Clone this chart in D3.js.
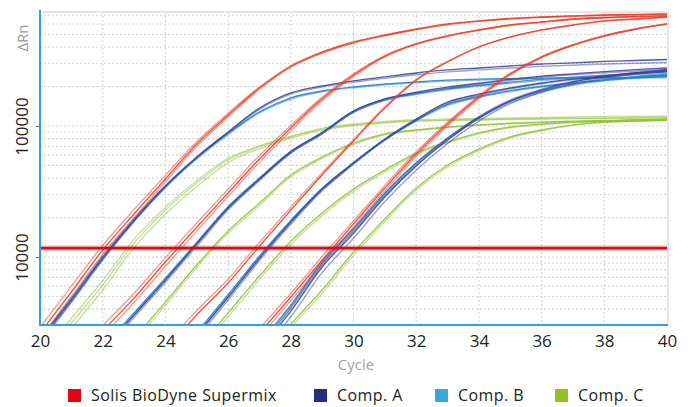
<!DOCTYPE html>
<html><head><meta charset="utf-8">
<script src="https://cdn.jsdelivr.net/npm/d3@7"></script>
<style>
html,body{margin:0;padding:0;background:#fff;}
svg{display:block;font-family:"Open Sans",sans-serif;}
</style></head><body>
<svg id="chart" width="691" height="407"></svg>
<script>
// ---------- data ----------
const xTicks = [20,22,24,26,28,30,32,34,36,38,40];
const yTicks = [10000,100000];
const threshold = 11700;
const legendLabels = ["Solis BioDyne Supermix","Comp. A","Comp. B","Comp. C"];

// Solis BioDyne Supermix (red)
const red_g1a = [2630,5410,11300,21300,39400,72900,121000,195000,287000,367000,438000,495000,550000,601000,634000,662000,679000,692000,703000,710000,716000];
const red_g1b = [2900,6000,12300,23000,42000,76000,125000,198000,285000,362000,432000,490000,545000,595000,630000,658000,676000,690000,700000,708000,714000];
const red_g1c = [2400,5000,10500,20000,37500,70000,117000,190000,280000,360000,430000,488000,543000,592000,628000,655000,673000,686000,697000,704000,710000];
const red_g2a = [2740,4860,9160,16900,30800,56000,96600,161000,245000,342000,423000,487000,541000,590000,622000,656000,673000,686000,692000];
const red_g2b = [3000,5300,9900,18200,33000,59500,101000,166000,250000,345000,425000,488000,540000,588000,620000,653000,670000,683000,690000];
const red_g2c = [2500,4500,8500,15800,29000,53000,92000,155000,238000,335000,418000,482000,536000,585000,618000,650000,668000,680000,688000];
const red_g3a = [1950,3610,6330,12100,22800,42300,76800,137000,224000,308000,401000,478000,541000,590000,634000,656000,679000];
const red_g3b = [2150,3900,6800,12900,24000,44000,79000,140000,226000,310000,400000,475000,537000,586000,630000,652000,675000];
const red_g4a = [2630,4950,9490,17900,33600,61100,103500,166000,249000,336000,415000,487000,550000,601000];
const red_g4b = [2850,5300,10100,18900,35200,63500,107000,170000,253000,340000,418000,490000,552000,603000];
const red_g4c = [2450,4650,8900,16900,32000,58500,99500,161000,244000,331000,410000,482000,545000,597000];

// Comp. A (dark blue)
const a_g1a = [2330,4700,9830,19100,34800,58000,90000,137000,179000,202000,221000,237000,254000,268000,277000,287000,297000,303000,311000,316000,322000];
const a_g1b = [2200,4500,9500,18600,34000,57000,88500,134000,175000,198000,216000,231000,246000,259000,268000,277000,285000,291000,297000,301000,305000];
const a_g2a = [1950,3610,6670,12600,23700,39400,63400,88500,130000,161000,181000,198000,212000,227000,240000,250000,260000,269000,277000];
const a_g2b = [1850,3450,6400,12100,22900,38300,61800,86500,127000,158000,178000,195000,209000,223000,236000,246000,255000,263000,270000];
const a_g3a = [2540,4950,9830,18500,33000,52200,79600,113000,152000,175000,195000,213000,228000,241000,254000,263000];
const a_g3b = [2400,4700,9400,17800,32000,51000,78000,111000,149000,172000,192000,210000,225000,238000,250000,260000];
const a_g4a = [1950,3870,8390,15200,28700,49500,78200,115000,155000,188000,217000,237000,254000,268000];
const a_g4b = [1750,3500,7600,13900,26500,46000,73500,109000,148000,181000,210000,231000,248000,262000];
const a_g4c = [2100,4150,8900,16000,30000,51500,80500,118000,158000,191000,219000,239000,256000,270000];

// Comp. B (light blue)
const b_g1a = [2400,4850,10100,19500,35000,57500,88000,128000,164000,185000,199000,209000,217000,224000,228000,230000,232000,233000,234000,235000,237000];
const b_g1b = [2250,4600,9600,18800,34000,56000,86000,126000,160000,182000,196000,206000,214000,220000,224000,227000,229000,230000,231000,232000,233000];
const b_g2a = [2050,3750,6900,12900,24200,40000,64000,89500,130000,160000,177000,192000,204000,216000,227000,236000,244000,251000,258000];
const b_g2b = [1950,3600,6650,12500,23500,39000,62500,87500,127000,156000,174000,189000,201000,212000,222000,231000,239000,246000,252000];
const b_g3a = [2650,5150,10200,19000,33500,52500,79000,111000,146000,168000,186000,201000,214000,225000,235000,243000];
const b_g3b = [2500,4900,9700,18300,32500,51500,78000,109000,143000,165000,183000,198000,211000,222000,231000,239000];
const b_g4a = [2200,4300,9200,16500,30800,52500,81000,117000,155000,185000,208000,225000,238000,248000];
const b_g4b = [2050,4050,8700,15700,29500,50500,79000,114000,151000,181000,204000,221000,234000,244000];

// Comp. C (green)
const c_g1a = [1550,3130,6110,12800,22800,36700,55000,69200,82400,94800,102000,107000,110000,111000,112000,113000,114000,115000,115000,116000,117000];
const c_g1b = [1400,2850,5600,11800,21200,34500,52500,67000,80500,93000,100500,105500,108500,110000,111000,112000,113000,113500,114000,114500,115000];
const c_g1c = [1700,3400,6600,13700,24000,38200,56500,70500,83500,96000,103500,108500,111500,113000,114000,115000,116000,117000,118000,118500,119000];
const c_g2a = [1300,2400,4530,8690,15800,25800,42300,58000,74100,86900,93200,98200,102000,105000,107000,109000,110000,111000,111000];
const c_g2b = [1200,2250,4300,8300,15100,24800,40800,56500,72500,85500,92000,97200,101000,104000,106000,108000,109000,110000,110500];
const c_g3a = [1950,3740,7160,13200,21700,33000,46100,62200,75500,88500,98200,103500,107000,109000,111000,113000];
const c_g3b = [1800,3500,6750,12500,20700,31700,44500,60500,74000,87000,96800,102500,106000,108000,110000,112000];
const c_g4a = [1580,3070,5600,10900,19500,33600,50400,66700,82400,93200,102000,107000,109000,111000];
const c_g4b = [1480,2900,5300,10300,18600,32300,48800,65000,80800,92000,101000,106000,108500,110500];

// series table (mix index, first cycle, values, main replicate?)
const series = [
  {mix:3,start:20,v:c_g1b,main:false},{mix:3,start:20,v:c_g1c,main:false},{mix:3,start:20,v:c_g1a,main:false},
  {mix:3,start:22,v:c_g2b,main:false},{mix:3,start:22,v:c_g2a,main:true},
  {mix:3,start:25,v:c_g3b,main:false},{mix:3,start:25,v:c_g3a,main:true},
  {mix:3,start:27,v:c_g4b,main:false},{mix:3,start:27,v:c_g4a,main:true},
  {mix:2,start:20,v:b_g1b,main:false},{mix:2,start:20,v:b_g1a,main:true},
  {mix:2,start:22,v:b_g2b,main:false},{mix:2,start:22,v:b_g2a,main:true},
  {mix:2,start:25,v:b_g3b,main:false},{mix:2,start:25,v:b_g3a,main:true},
  {mix:2,start:27,v:b_g4b,main:false},{mix:2,start:27,v:b_g4a,main:true},
  {mix:1,start:20,v:a_g1b,main:false},{mix:1,start:20,v:a_g1a,main:true},
  {mix:1,start:22,v:a_g2b,main:false},{mix:1,start:22,v:a_g2a,main:true},
  {mix:1,start:25,v:a_g3b,main:false},{mix:1,start:25,v:a_g3a,main:true},
  {mix:1,start:27,v:a_g4b,main:false},{mix:1,start:27,v:a_g4c,main:false},{mix:1,start:27,v:a_g4a,main:true},
  {mix:0,start:20,v:red_g1b,main:false},{mix:0,start:20,v:red_g1c,main:false},{mix:0,start:20,v:red_g1a,main:true},
  {mix:0,start:22,v:red_g2b,main:false},{mix:0,start:22,v:red_g2c,main:false},{mix:0,start:22,v:red_g2a,main:true},
  {mix:0,start:24,v:red_g3b,main:false},{mix:0,start:24,v:red_g3a,main:true},
  {mix:0,start:27,v:red_g4b,main:false},{mix:0,start:27,v:red_g4c,main:false},{mix:0,start:27,v:red_g4a,main:true}
];

// ---------- styles ----------
const lineColors = ["#e8402c","#3d4299","#1f80c6","#93c23a"];
const legendColors = ["#e30613","#2b2a82","#35a8e0","#95c11e"];

const svg = d3.select("#chart");
const L = 40, R = 667, T = 12, B = 325;
const x = d3.scaleLinear().domain([20,40]).range([L,R]);
const y = d3.scaleLog().domain([3030,741000]).range([B,T]);

// grid
const grid = svg.append("g");
grid.selectAll("line.h").data(y.ticks().filter(d => d > 3030 && d < 741000)).join("line")
  .attr("x1",L).attr("x2",R).attr("y1",d=>y(d)).attr("y2",d=>y(d))
  .attr("stroke","#d6d6d6").attr("stroke-width",1.2).attr("stroke-dasharray","2,2");
grid.selectAll("line.v").data(xTicks.slice(1,-1)).join("line")
  .attr("x1",d=>x(d)).attr("x2",d=>x(d)).attr("y1",T).attr("y2",B)
  .attr("stroke","#d6d6d6").attr("stroke-width",1.2).attr("stroke-dasharray","2,2");
// frame top/right
svg.append("line").attr("x1",L).attr("x2",R+1).attr("y1",T).attr("y2",T).attr("stroke","#dcdcdc").attr("stroke-width",1.5);
svg.append("line").attr("x1",R+1).attr("x2",R+1).attr("y1",T).attr("y2",B).attr("stroke","#dcdcdc").attr("stroke-width",1.5);

// clip
svg.append("clipPath").attr("id","clip").append("rect")
  .attr("x",L).attr("y",T).attr("width",R-L+1).attr("height",B-T);

const line = d3.line().curve(d3.curveMonotoneX)
  .x(d=>x(d[0])).y(d=>y(d[1]));

const plot = svg.append("g").attr("clip-path","url(#clip)");
plot.selectAll("path.curve").data(series).join("path")
  .attr("class","curve")
  .attr("d", s => line(s.v.map((v,i)=>[s.start+i, v])))
  .attr("fill","none")
  .attr("stroke", s => lineColors[s.mix])
  .attr("stroke-width", 1.4)
  .attr("stroke-opacity", s => s.main ? 0.88 : 0.5);

// threshold
plot.append("line").attr("x1",L).attr("x2",R).attr("y1",y(threshold)).attr("y2",y(threshold))
  .attr("stroke","#e30613").attr("stroke-opacity",0.22).attr("stroke-width",5.5);
plot.append("line").attr("x1",L).attr("x2",R).attr("y1",y(threshold)).attr("y2",y(threshold))
  .attr("stroke","#e30613").attr("stroke-width",2.6);

// axes
const xa = svg.append("g").attr("transform",`translate(0,${B})`)
  .call(d3.axisBottom(x).tickValues(xTicks).tickSize(0).tickPadding(10).tickFormat(d3.format("d")));
xa.select(".domain").remove();
xa.selectAll("text").attr("font-size",17).attr("fill","#222").attr("font-family","'Open Sans',sans-serif");

const ya = svg.append("g").attr("transform",`translate(${L},0)`)
  .call(d3.axisLeft(y).tickValues(yTicks).tickSize(4).tickFormat(d3.format("d")));
ya.select(".domain").remove();
ya.selectAll("line").attr("stroke","#666");
ya.selectAll("text").attr("font-size",17).attr("fill","#222").attr("font-family","'Open Sans',sans-serif")
  .attr("transform","rotate(-90)").attr("x",0).attr("y",-12).attr("dy",0).attr("text-anchor","middle");

// blue axis lines
svg.append("line").attr("x1",L).attr("x2",L).attr("y1",T-2).attr("y2",B+1).attr("stroke","#2aa3dc").attr("stroke-width",2);
svg.append("line").attr("x1",L).attr("x2",R+1).attr("y1",B).attr("y2",B).attr("stroke","#2aa3dc").attr("stroke-width",2);

// axis titles
svg.append("text").attr("transform","translate(28,38) rotate(-90)").attr("text-anchor","middle")
  .attr("font-size",15).attr("fill","#9a9a9a").text("ΔRn");
svg.append("text").attr("x",356).attr("y",370).attr("text-anchor","middle")
  .attr("font-size",15).attr("fill","#a3a3a3").text("Cycle");

// legend
const legX = [68,314,435,555];
const leg = svg.append("g").selectAll("g").data(legendLabels).join("g")
  .attr("transform",(d,i)=>`translate(${legX[i]},0)`);
leg.append("rect").attr("x",0).attr("y",389).attr("width",13).attr("height",13)
  .attr("fill",(d,i)=>legendColors[i]);
leg.append("text").attr("x",23).attr("y",401).attr("font-size",16).attr("letter-spacing",0.45)
  .attr("fill","#222").text(d=>d);
</script>
</body></html>
